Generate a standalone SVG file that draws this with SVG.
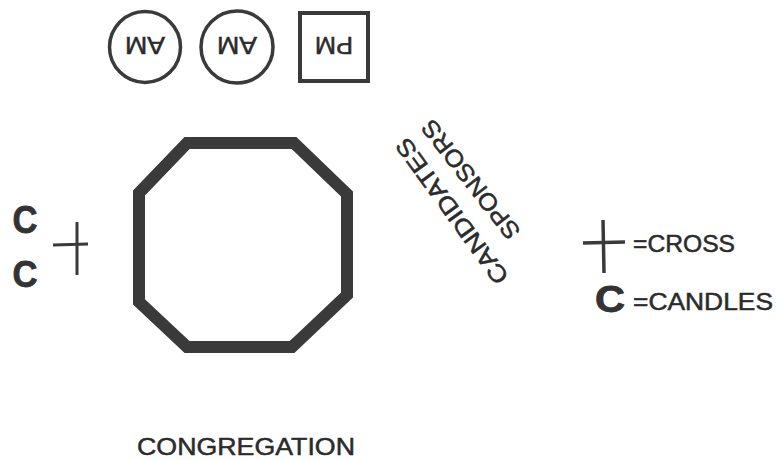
<svg xmlns="http://www.w3.org/2000/svg" width="777" height="460" viewBox="0 0 777 460">
<style>
.t{font-family:"Liberation Sans",Arial,sans-serif;font-size:24px;fill:#2b2b2b;stroke:#2b2b2b;stroke-width:0.5}
.b{font-family:"Liberation Sans",Arial,sans-serif;font-weight:bold;fill:#333;stroke:#333;stroke-width:0.8}
.ln{fill:none;stroke:#3a3a3a}
</style>
<rect width="777" height="460" fill="#fff"/>
<g id="am1">
<circle class="ln" cx="145" cy="47" r="35.5" stroke-width="3.5"/>
<text class="t" x="145" y="57" text-anchor="middle" font-size="28" textLength="40" lengthAdjust="spacingAndGlyphs" transform="rotate(180 145 47)">AM</text>
</g>
<g id="am2">
<circle class="ln" cx="237" cy="47" r="36" stroke-width="3.5"/>
<text class="t" x="237" y="57" text-anchor="middle" font-size="28" textLength="40" lengthAdjust="spacingAndGlyphs" transform="rotate(180 237 47)">AM</text>
</g>
<g id="pm">
<rect class="ln" x="300" y="13" width="68" height="68" stroke-width="4"/>
<text class="t" x="334" y="57" text-anchor="middle" font-size="28" textLength="38" lengthAdjust="spacingAndGlyphs" transform="rotate(180 334 47)">PM</text>
</g>
<g id="altar">
<polygon class="ln" stroke="#444" stroke-width="12" points="187,143 294,143 347,194 347,295 292,347 187,347 139,302 139,193"/>
</g>
<g id="candles-left">
<text class="b" x="25" y="233" text-anchor="middle" font-size="38" textLength="25" lengthAdjust="spacingAndGlyphs">C</text>
<text class="b" x="25" y="287" text-anchor="middle" font-size="37" textLength="25" lengthAdjust="spacingAndGlyphs">C</text>
</g>
<g id="cross-left">
<line class="ln" x1="53" y1="245" x2="88" y2="244" stroke-width="3"/>
<line class="ln" x1="77" y1="222" x2="77" y2="275" stroke-width="3"/>
</g>
<g id="candidates">
<text class="t" font-size="27" transform="translate(451 212) rotate(-126)" x="0" y="9.5" text-anchor="middle" textLength="174" lengthAdjust="spacingAndGlyphs">CANDIDATES</text>
</g>
<g id="sponsors">
<text class="t" font-size="26" transform="translate(470 180) rotate(-128)" x="0" y="9" text-anchor="middle" textLength="144" lengthAdjust="spacingAndGlyphs">SPONSORS</text>
</g>
<g id="legend-cross">
<line class="ln" x1="583" y1="243" x2="625" y2="242" stroke-width="3.5"/>
<line class="ln" x1="603" y1="220" x2="604" y2="273" stroke-width="3.5"/>
<text class="t" x="633" y="252" textLength="102" lengthAdjust="spacingAndGlyphs">=CROSS</text>
</g>
<g id="legend-candles">
<text class="b" x="610" y="312" text-anchor="middle" font-size="36" textLength="30" lengthAdjust="spacingAndGlyphs">C</text>
<text class="t" x="633" y="310" textLength="140" lengthAdjust="spacingAndGlyphs">=CANDLES</text>
</g>
<g id="congregation">
<text class="t" x="137" y="455" textLength="218" lengthAdjust="spacingAndGlyphs">CONGREGATION</text>
</g>
<g id="connectors"></g>
</svg>
